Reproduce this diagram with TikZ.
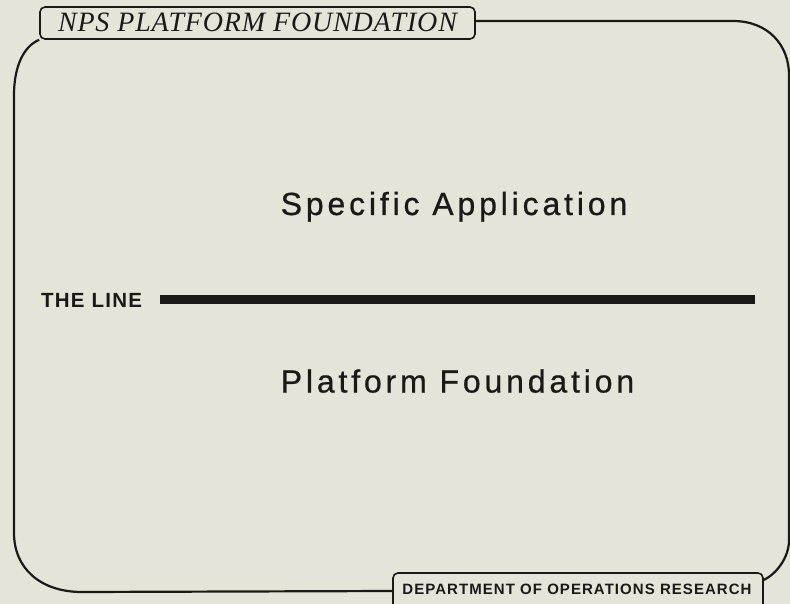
\documentclass[tikz,border=0pt]{standalone}
\usepackage{fontspec}
\setmainfont{Liberation Serif}
\newfontfamily\bigsans[LetterSpace=12,FakeBold=0.7]{Liberation Sans}
\newfontfamily\smallsans[LetterSpace=7]{Liberation Sans}
\newfontfamily\linesans[LetterSpace=6]{Liberation Sans}
\newfontfamily\titleserif[LetterSpace=3]{Liberation Serif}
\definecolor{paper}{RGB}{229,228,217}
\definecolor{ink}{RGB}{25,25,25}
\tikzset{
  frameline/.style={draw=ink, line width=2.2pt},
  boxline/.style={draw=ink, line width=1.6pt, rounded corners=5pt, inner sep=0pt},
  bigtext/.style={font=\bigsans\fontsize{32}{34}\selectfont, text=ink, inner sep=0pt,
                  text height=23pt, text depth=0pt},
  barline/.style={draw=ink, line width=8.5pt},
}
\begin{document}
\begin{tikzpicture}[x=1pt, y=-1pt]
\fill[paper] (0,0) rectangle (790,604);
\useasboundingbox (0,0) rectangle (790,604);
% title box
\node[boxline, minimum width=435pt, minimum height=32pt,
      font=\titleserif\itshape\fontsize{28}{30}\selectfont, text=ink,
      text height=18pt, text depth=0pt] (title) at (257.5,23) {NPS PLATFORM FOUNDATION};
% department box
\node[boxline, minimum width=370pt, minimum height=36pt] (dept) at (578,591) {};
\node[font=\smallsans\bfseries\fontsize{15}{16}\selectfont, text=ink, inner sep=0pt,
      text height=11pt, text depth=0pt] (depttext) at (577,588.5) {DEPARTMENT OF OPERATIONS RESEARCH};
% frame
\coordinate (tr1) at (733,21);
\coordinate (tr2) at (789,75);
\coordinate (br1) at (789,540);
\coordinate (bl1) at (82,592);
\coordinate (bl2) at (14,533);
\coordinate (tl1) at (14,95);
\draw[frameline] (title.east |- tr1) -- (tr1) .. controls (768,21) and (789,45) .. (tr2)
  -- (br1) .. controls (789,558) and (776,574) .. ([yshift=11pt]dept.east);
\draw[frameline] (dept.west) -- (bl1) .. controls (40,592) and (14,568) .. (bl2)
  -- (tl1) .. controls (14,66) and (24,46) .. (title.south west);
% texts
\node[bigtext] (spec) at (454,203.5) {Specific Application};
\node[bigtext] (plat) at (457.5,381) {Platform Foundation};
\node[font=\linesans\bfseries\fontsize{20.5}{22}\selectfont, text=ink, inner sep=0pt, anchor=west,
      text height=15pt, text depth=0pt] (theline) at (41,299.5) {THE LINE};
\coordinate (barstart) at (160,299.5);
\coordinate (barend) at (755,299.5);
\draw[barline] (barstart) -- (barend);
\end{tikzpicture}
\end{document}
